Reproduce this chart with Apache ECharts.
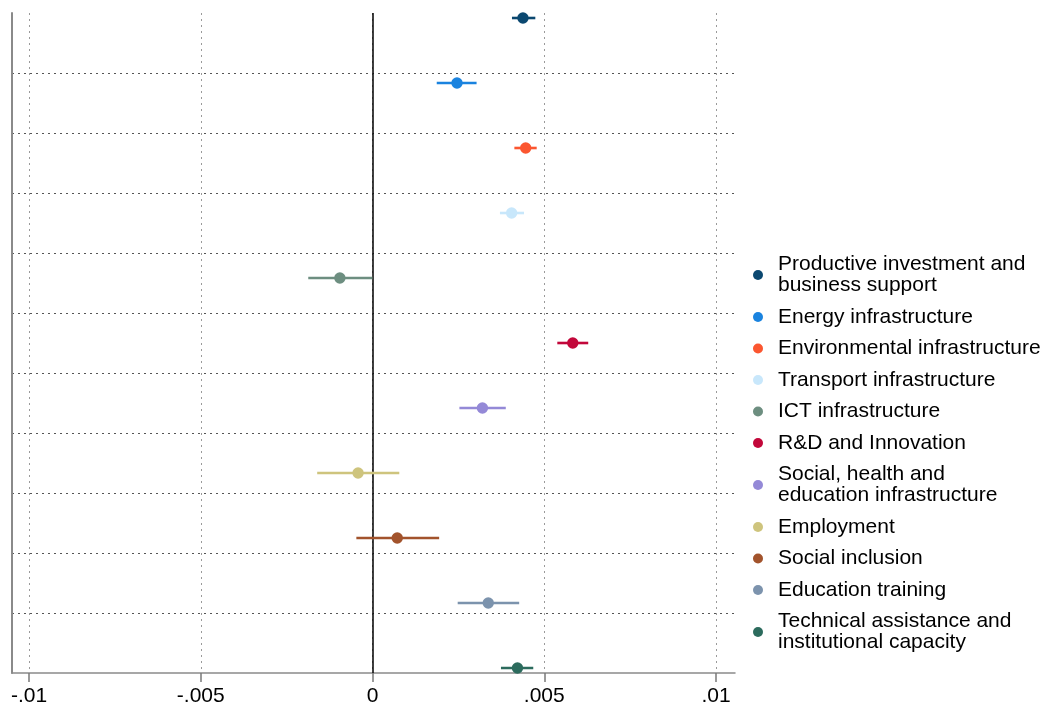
<!DOCTYPE html>
<html>
<head>
<meta charset="utf-8">
<script src="https://cdn.jsdelivr.net/npm/echarts@6/dist/echarts.min.js"></script>
<style>
  html, body { margin: 0; padding: 0; background: #fff; overflow: hidden; }
  #chart { width: 1043px; height: 740px; }
</style>
</head>
<body>
<div id="chart"></div>
<script>
// Coefficient estimates with confidence intervals, one row per intervention field
const categories = [
  'Productive investment and\nbusiness support',
  'Energy infrastructure',
  'Environmental infrastructure',
  'Transport infrastructure',
  'ICT infrastructure',
  'R&D and Innovation',
  'Social, health and\neducation infrastructure',
  'Employment',
  'Social inclusion',
  'Education training',
  'Technical assistance and\ninstitutional capacity'
];
const estimates = [0.00438, 0.00246, 0.00446, 0.00405, -0.00095, 0.00583, 0.00320, -0.00042, 0.00072, 0.00337, 0.00422];
const lower     = [0.00406, 0.00187, 0.00413, 0.00371, -0.00187, 0.00538, 0.00253, -0.00161, -0.00047, 0.00248, 0.00374];
const upper     = [0.00474, 0.00303, 0.00478, 0.00441, 0.00000, 0.00628, 0.00388, 0.00078, 0.00194, 0.00427, 0.00468];
const colors = ['#0b4870', '#1a83df', '#fb5630', '#c8e7fb', '#6d8e80', '#c2073a',
                '#9489d7', '#cec47d', '#a2532c', '#7c93ad', '#2c6b5d'];
const xTickValues = [-0.01, -0.005, 0, 0.005, 0.01];
const xTickLabels = ['-.01', '-.005', '0', '.005', '.01'];

const FONT = '"Liberation Sans", Arial, sans-serif';

const series = categories.map((name, i) => ({
  name: name,
  type: 'custom',
  xAxisIndex: 0,
  yAxisIndex: 0,
  itemStyle: { color: colors[i] },
  encode: { x: [0, 1, 2], y: 3 },
  data: [[estimates[i], lower[i], upper[i], i + 1]],
  renderItem: function (params, api) {
    const row = api.value(3);
    const p = api.coord([api.value(0), row]);
    const a = api.coord([api.value(1), row]);
    const b = api.coord([api.value(2), row]);
    return {
      type: 'group',
      children: [
        { type: 'line', shape: { x1: a[0], y1: a[1], x2: b[0], y2: b[1] },
          style: { stroke: colors[i], lineWidth: 2.6 } },
        { type: 'circle', shape: { cx: p[0], cy: p[1], r: 5.7 },
          style: { fill: colors[i] } }
      ]
    };
  },
  z: 5
}));

// vertical reference line at zero
series.push({
  type: 'line',
  xAxisIndex: 0,
  yAxisIndex: 0,
  data: [],
  silent: true,
  markLine: {
    symbol: 'none',
    silent: true,
    label: { show: false },
    lineStyle: { color: '#000', width: 1.5, type: 'solid' },
    data: [{ xAxis: 0 }]
  },
  z: 4
});

const option = {
  animation: false,
  backgroundColor: '#fff',
  grid: [
    { left: 29, width: 687, top: 13, height: 660 },
    { left: 12, width: 723, top: 13, height: 660 }
  ],
  xAxis: [
    {
      gridIndex: 0, type: 'value', position: 'bottom', min: -0.01, max: 0.01, interval: 0.005,
      axisLine: { show: true, onZero: false, lineStyle: { color: 'rgba(255,255,255,0)', width: 1 } },
      axisTick: { show: true, inside: false, length: 9, lineStyle: { color: '#7a7a7a', width: 1.5 } },
      axisLabel: {
        color: '#000', fontFamily: FONT, fontSize: 21, margin: 13,
        formatter: v => {
          const k = xTickValues.findIndex(t => Math.abs(t - v) < 1e-9);
          return k >= 0 ? xTickLabels[k] : '';
        }
      },
      splitLine: { show: true, lineStyle: { color: '#9a9a9a', width: 1, type: [2, 4] } },
      z: 3
    },
    {
      gridIndex: 1, type: 'value', position: 'bottom', min: 0, max: 1,
      axisLine: { show: true, onZero: false, lineStyle: { color: '#8a8a8a', width: 1.5 } },
      axisTick: { show: false }, axisLabel: { show: false }, splitLine: { show: false }
    }
  ],
  yAxis: [
    {
      gridIndex: 0, type: 'value', inverse: true,
      min: 1 - 5 / 65, max: 11 + 5 / 65,
      axisLine: { show: false, onZero: false }, axisTick: { show: false },
      axisLabel: { show: false }, splitLine: { show: false }
    },
    {
      gridIndex: 1, type: 'value', position: 'left', inverse: true, min: 0, max: 11, interval: 1,
      axisLine: { show: true, onZero: false, lineStyle: { color: '#8a8a8a', width: 2 } },
      axisTick: { show: false }, axisLabel: { show: false },
      splitLine: { show: true, showMinLine: false, showMaxLine: false,
                   lineStyle: { color: '#555', width: 1, type: [2, 4] } }
    }
  ],
  legend: {
    orient: 'vertical',
    left: 753,
    top: 254,
    padding: 0,
    icon: 'circle',
    itemWidth: 30,
    itemHeight: 10,
    itemGap: 10.5,
    textStyle: { color: '#000', fontFamily: FONT, fontSize: 21, lineHeight: 21 },
    data: categories.map((c, i) => ({ name: c, itemStyle: { color: colors[i] } }))
  },
  series: series
};

const chart = echarts.init(document.getElementById('chart'), null, { renderer: 'canvas' });
chart.setOption(option);
</script>
</body>
</html>
